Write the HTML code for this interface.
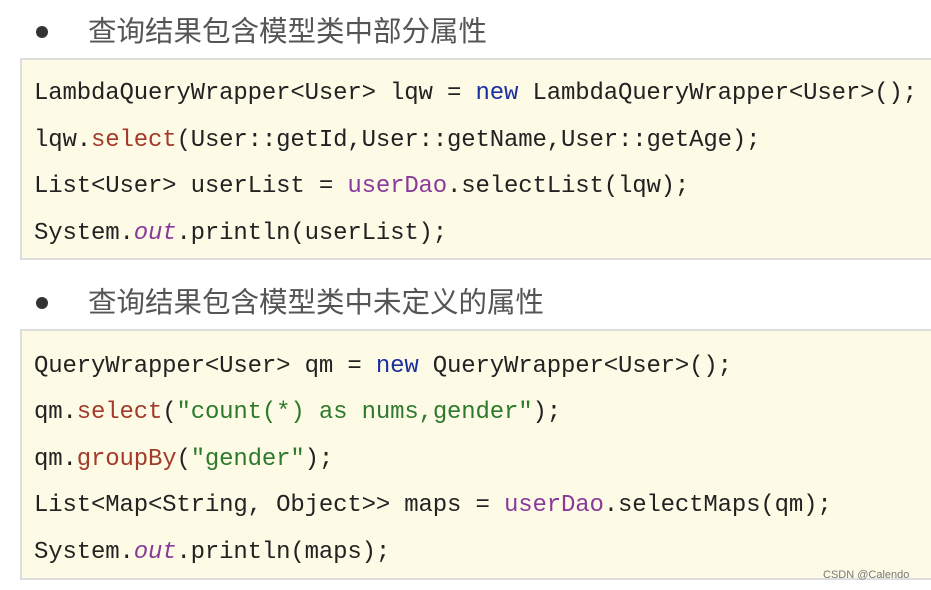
<!DOCTYPE html>
<html><head><meta charset="utf-8"><style>
body{margin:0;width:931px;height:590px;background:#fff;position:relative;overflow:hidden;font-family:"Liberation Sans","Noto Sans CJK SC",sans-serif}
.h{position:absolute;left:88px;font-size:28.5px;color:#555;line-height:32px}
.dot{position:absolute;left:36px;width:12px;height:12px;border-radius:50%;background:#333}
.box{position:absolute;left:20px;width:920px;background:#fdfbe6;border:2px solid #ddd;border-right:none;box-sizing:border-box}
.l{position:absolute;left:34px;font-family:"Liberation Mono",monospace;font-size:24px;letter-spacing:-0.16px;line-height:30px;color:#222;white-space:pre}
.r{color:#a33a2a}.b{color:#1c2fa0}.p{color:#8a3a9a}.g{color:#2d7a2d}.i{font-style:italic;color:#8a3a9a}
.wm{position:absolute;left:823px;top:569px;font-size:11px;color:#777}
</style></head><body>
<div class="dot" style="top:26px"></div><div class="h" style="top:16px">查询结果包含模型类中部分属性</div>
<div class="box" style="top:58px;height:202px"></div>
<div class="l" style="top:79px">LambdaQueryWrapper&lt;User&gt; lqw = <span class="b">new</span> LambdaQueryWrapper&lt;User&gt;();</div>
<div class="l" style="top:126px">lqw.<span class="r">select</span>(User::getId,User::getName,User::getAge);</div>
<div class="l" style="top:172px">List&lt;User&gt; userList = <span class="p">userDao</span>.selectList(lqw);</div>
<div class="l" style="top:219px">System.<span class="i">out</span>.println(userList);</div>
<div class="dot" style="top:297px"></div><div class="h" style="top:287px">查询结果包含模型类中未定义的属性</div>
<div class="box" style="top:329px;height:251px"></div>
<div class="l" style="top:352px">QueryWrapper&lt;User&gt; qm = <span class="b">new</span> QueryWrapper&lt;User&gt;();</div>
<div class="l" style="top:398px">qm.<span class="r">select</span>(<span class="g">"count(*) as nums,gender"</span>);</div>
<div class="l" style="top:445px">qm.<span class="r">groupBy</span>(<span class="g">"gender"</span>);</div>
<div class="l" style="top:491px">List&lt;Map&lt;String, Object&gt;&gt; maps = <span class="p">userDao</span>.selectMaps(qm);</div>
<div class="l" style="top:538px">System.<span class="i">out</span>.println(maps);</div>
<div class="wm">CSDN @Calendo</div>
</body></html>
